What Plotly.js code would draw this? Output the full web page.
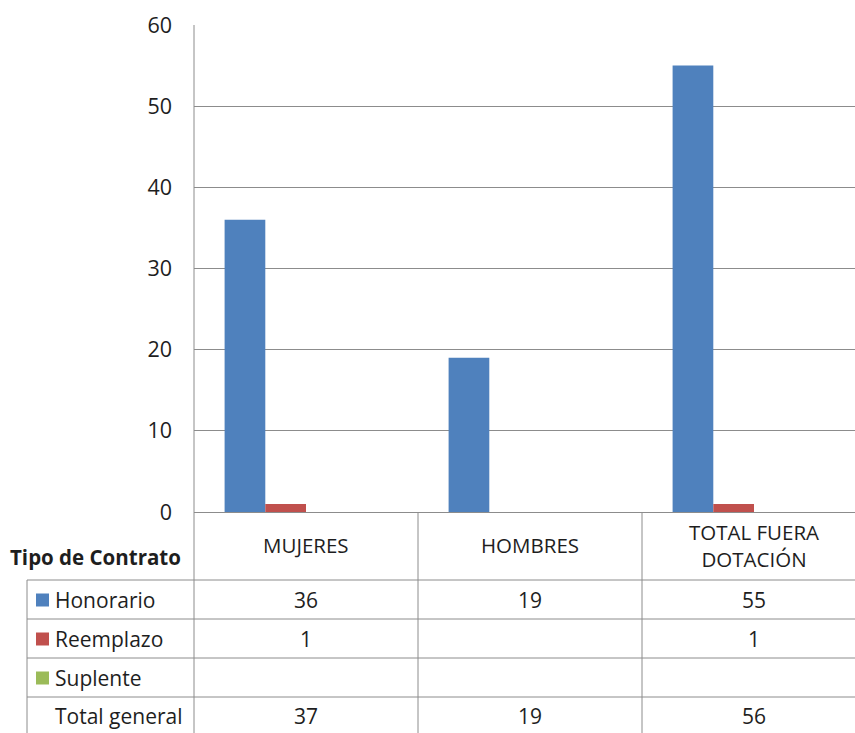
<!DOCTYPE html>
<html><head><meta charset="utf-8">
<script src="https://cdn.plot.ly/plotly-3.0.1.min.js"></script>
<style>html,body{margin:0;padding:0;background:#fff}</style>
</head><body><div id="chart" style="width:855px;height:733px"></div>
<script>
const categories = ["MUJERES", "HOMBRES", "TOTAL FUERA DOTACIÓN"];
const catLabels = ["MUJERES", "HOMBRES", "TOTAL FUERA<br>DOTACIÓN"];
const seriesNames = ["Honorario", "Reemplazo", "Suplente"];
const honorario = [36, 19, 55];
const reemplazo = [1, null, 1];
const suplente = [null, null, null];
const totalGeneral = [37, 19, 56];
const tableTitle = "Tipo de Contrato";
const totalLabel = "Total general";
const colors = ["#4F81BD", "#C0504D", "#9BBB59"];

const seriesValues = [honorario, reemplazo, suplente];
const FONT = "'Open Sans', sans-serif";
const TXT = "#1e1e1e";
const GRID = "#8c8c8c";

const W = 855, H = 733, L = 194, T = 25, B = 221;
const plotH = H - T - B, plotW = W - L;
const CAT = 224;
const py = p => (H - B - p) / plotH;      // pixel y -> paper y
const px = p => (p - L) / plotW;          // pixel x -> paper x

const BW = 40.7 / CAT;
const traces = seriesNames.map((n, i) => ({
  type: "bar", name: n, x: categories.map((c, k) => k), y: seriesValues[i],
  width: BW, offset: (i - 2) * BW,
  marker: {color: colors[i], line: {width: 0}}, hoverinfo: "x+y+name"
}));

const rowCenters = [600, 639, 678, 716];
const hLines = [580, 619, 658, 697];

const shapes = [];
hLines.forEach(h => shapes.push({type: "line", xref: "paper", yref: "paper",
  x0: px(27), x1: 1, y0: py(h), y1: py(h), line: {color: GRID, width: 1}}));
shapes.push({type: "line", xref: "paper", yref: "paper", x0: px(27), x1: px(27),
  y0: py(580), y1: py(H), line: {color: GRID, width: 1}});
shapes.push({type: "line", xref: "paper", yref: "paper", x0: 0, x1: 0,
  y0: 1, y1: py(H), line: {color: GRID, width: 1}});
for (let k = 0; k < categories.length - 1; k++) {
  shapes.push({type: "line", xref: "x", yref: "paper", x0: k + 0.5, x1: k + 0.5,
    y0: 0, y1: py(H), line: {color: GRID, width: 1}});
}
seriesNames.forEach((n, i) => shapes.push({type: "rect", xref: "paper", yref: "paper",
  x0: px(36), x1: px(49), y0: py(rowCenters[i] - 6.5), y1: py(rowCenters[i] + 6.5),
  fillcolor: colors[i], line: {width: 0}}));

const annotations = [];
const ann = (o, size) => annotations.push(Object.assign({showarrow: false, yanchor: "middle",
  font: {family: FONT, size: size, color: TXT}}, o));
ann({xref: "paper", yref: "paper", x: px(8), y: py(557), xanchor: "left",
  text: "<b>" + tableTitle + "</b>"}, 20.5);
catLabels.forEach((c, k) => ann({xref: "x", yref: "paper", x: k, y: py(545),
  xanchor: "center", text: c}, 20.5));
seriesNames.forEach((n, i) => {
  ann({xref: "paper", yref: "paper", x: px(53), y: py(rowCenters[i]), xanchor: "left", text: n}, 21);
  seriesValues[i].forEach((v, k) => {
    if (v !== null) ann({xref: "x", yref: "paper", x: k, y: py(rowCenters[i]),
      xanchor: "center", text: String(v)}, 21);
  });
});
ann({xref: "paper", yref: "paper", x: px(53), y: py(rowCenters[3]), xanchor: "left", text: totalLabel}, 21);
totalGeneral.forEach((v, k) => ann({xref: "x", yref: "paper", x: k, y: py(rowCenters[3]),
  xanchor: "center", text: String(v)}, 21));

const layout = {
  width: W, height: H,
  margin: {l: L, r: 0, t: T, b: B, pad: 0},
  paper_bgcolor: "#fff", plot_bgcolor: "#fff",
  showlegend: false, barmode: "overlay",
  font: {family: FONT, color: TXT},
  xaxis: {type: "linear", range: [-0.5, -0.5 + plotW / CAT], showticklabels: false, ticks: "",
    showgrid: false, zeroline: false, showline: false, fixedrange: true},
  yaxis: {range: [0, 60], dtick: 10, tick0: 0, showgrid: true, gridcolor: GRID, gridwidth: 1,
    zeroline: true, zerolinecolor: GRID, zerolinewidth: 1, showline: false,
    ticks: "", ticklabelstandoff: 21, tickfont: {family: FONT, size: 21.5, color: TXT}, fixedrange: true},
  shapes: shapes, annotations: annotations
};
Plotly.newPlot("chart", traces, layout, {displayModeBar: false, staticPlot: true});
</script></body></html>
